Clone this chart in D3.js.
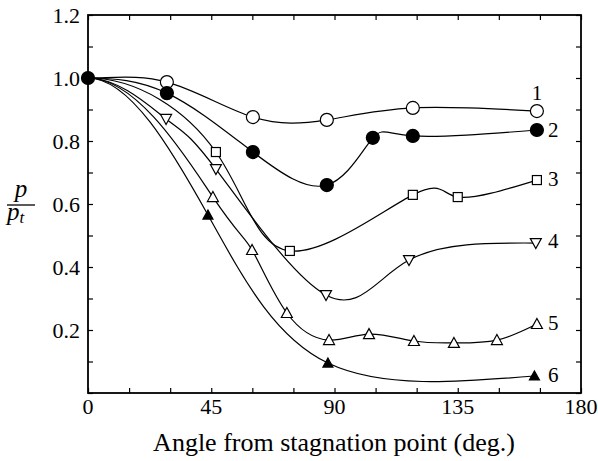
<!DOCTYPE html>
<html>
<head>
<meta charset="utf-8">
<script src="https://cdn.jsdelivr.net/npm/d3@7"></script>
<style>
  html, body { margin: 0; padding: 0; background: #fff; }
  svg { display: block; }
</style>
</head>
<body>
<svg id="chart" width="598" height="461"></svg>
<script>
// Shared stagnation point where every curve starts
const origin = [0, 1.0];

// Angles (deg) and pressure ratios for each curve
const angles1 = [28.8, 60.2, 87.2, 118.6, 163.9];
const values1 = [0.987, 0.876, 0.867, 0.905, 0.895];

const angles2 = [28.8, 60.2, 87.2, 104.0, 118.6, 163.9];
const values2 = [0.952, 0.765, 0.660, 0.810, 0.816, 0.835];

const angles3 = [46.7, 73.7, 118.6, 135.0, 163.9];
const values3 = [0.765, 0.451, 0.629, 0.622, 0.676];

const angles4 = [28.5, 46.7, 86.9, 117.2, 163.5];
const values4 = [0.870, 0.711, 0.311, 0.422, 0.476];

const angles5 = [45.6, 59.9, 72.6, 88.0, 102.6, 119.0, 133.6, 149.3, 163.9];
const values5 = [0.622, 0.454, 0.254, 0.168, 0.187, 0.165, 0.159, 0.168, 0.219];

const angles6 = [43.8, 87.6, 163.0];
const values6 = [0.565, 0.095, 0.054];

const curveLabels = ["1", "2", "3", "4", "5", "6"];
const markerKinds = ["circleOpen", "circleFilled", "square", "triDown", "triUp", "triUpFilled"];

const xTicks = [0, 45, 90, 135, 180];
const yTicks = [0.2, 0.4, 0.6, 0.8, 1.0, 1.2];

const xTitle = "Angle from stagnation point (deg.)";

const series = [
  [angles1, values1], [angles2, values2], [angles3, values3],
  [angles4, values4], [angles5, values5], [angles6, values6]
].map(([a, v], i) => ({
  label: curveLabels[i],
  kind: markerKinds[i],
  points: a.map((d, j) => [d, v[j]])
}));

const FONT = "'Liberation Serif', 'Times New Roman', Times, 'DejaVu Serif', serif";

const svg = d3.select("#chart").attr("font-family", FONT);
const L = 88, R = 581, T = 15, B = 393;

const x = d3.scaleLinear().domain([0, 180]).range([L, R]);
const y = d3.scaleLinear().domain([0, 1.2]).range([B, T]);

svg.append("clipPath").attr("id", "plotArea")
  .append("rect").attr("x", L).attr("y", T).attr("width", R - L).attr("height", B - T);

// Frame with inward ticks on all four sides
const tickLen = 5;
const xMinor = d3.range(0, 181, 15);
const yMinor = d3.range(0, 12.01, 1).map(d => d / 10);

const axB = d3.axisBottom(x).tickValues(xMinor).tickSizeInner(-tickLen).tickSizeOuter(0).tickFormat("");
const axT = d3.axisTop(x).tickValues(xMinor).tickSizeInner(-tickLen).tickSizeOuter(0).tickFormat("");
const axL = d3.axisLeft(y).tickValues(yMinor).tickSizeInner(-tickLen).tickSizeOuter(0).tickFormat("");
const axR = d3.axisRight(y).tickValues(yMinor).tickSizeInner(-tickLen).tickSizeOuter(0).tickFormat("");

const frame = svg.append("g");
frame.append("g").attr("transform", `translate(0,${B})`).call(axB);
frame.append("g").attr("transform", `translate(0,${T})`).call(axT);
frame.append("g").attr("transform", `translate(${L},0)`).call(axL);
frame.append("g").attr("transform", `translate(${R},0)`).call(axR);
frame.selectAll(".domain").remove();
frame.selectAll(".tick line").attr("stroke", "#000").attr("stroke-width", 1.2);
frame.append("rect")
  .attr("x", L).attr("y", T).attr("width", R - L).attr("height", B - T)
  .attr("fill", "none").attr("stroke", "#000").attr("stroke-width", 1.8);

// Tick labels
svg.append("g").selectAll("text").data(xTicks).join("text")
  .attr("x", d => x(d)).attr("y", 414)
  .attr("text-anchor", "middle").attr("font-size", 22)
  .text(d => d);
svg.append("g").selectAll("text").data(yTicks).join("text")
  .attr("x", 80).attr("y", d => y(d) + 7.5)
  .attr("text-anchor", "end").attr("font-size", 22)
  .text(d => d.toFixed(1));

// Axis titles
svg.append("text").attr("x", 334).attr("y", 451)
  .attr("text-anchor", "middle").attr("font-size", 26).text(xTitle);

const yl = svg.append("g").attr("font-style", "italic");
yl.append("text").attr("x", 21).attr("y", 197).attr("text-anchor", "middle").attr("font-size", 25).text("p");
yl.append("line").attr("x1", 7).attr("x2", 35).attr("y1", 205).attr("y2", 205)
  .attr("stroke", "#000").attr("stroke-width", 1.3);
const pt = yl.append("text").attr("x", 7).attr("y", 220).attr("font-size", 25);
pt.append("tspan").text("p");
pt.append("tspan").attr("font-size", 17).attr("dy", 3).text("t");

// Curves: the distribution is symmetric about the stagnation point, so the
// spline runs through the mirrored points too, giving a level start at 0 deg.
const line = d3.line()
  .x(d => x(d[0])).y(d => y(d[1]))
  .curve(d3.curveNatural);

function symmetric(points) {
  const mirrored = points.map(p => [-p[0], p[1]]).reverse();
  return [...mirrored, origin, ...points];
}

const plot = svg.append("g");
plot.append("g").attr("clip-path", "url(#plotArea)")
  .selectAll("path.curve").data(series).join("path")
  .attr("class", "curve")
  .attr("d", s => line(symmetric(s.points)))
  .attr("fill", "none").attr("stroke", "#000").attr("stroke-width", 1.2);

// Markers
function drawMarker(g, kind) {
  const sw = 1.2;
  if (kind === "circleOpen" || kind === "circleFilled") {
    g.append("circle").attr("r", 6.5)
      .attr("fill", kind === "circleFilled" ? "#000" : "#fff")
      .attr("stroke", "#000").attr("stroke-width", sw);
  } else if (kind === "square") {
    g.append("rect").attr("x", -4.5).attr("y", -4.5).attr("width", 9).attr("height", 9)
      .attr("fill", "#fff").attr("stroke", "#000").attr("stroke-width", sw);
  } else if (kind === "triDown") {
    g.append("path").attr("d", "M-5.5,-4.5L5.5,-4.5L0,5.5Z")
      .attr("fill", "#fff").attr("stroke", "#000").attr("stroke-width", sw);
  } else if (kind === "triUp") {
    g.append("path").attr("d", "M-5.5,4.5L5.5,4.5L0,-5.5Z")
      .attr("fill", "#fff").attr("stroke", "#000").attr("stroke-width", sw);
  } else if (kind === "triUpFilled") {
    g.append("path").attr("d", "M-5,4L5,4L0,-5Z")
      .attr("fill", "#000").attr("stroke", "#000").attr("stroke-width", sw);
  }
}

series.forEach(s => {
  s.points.forEach(p => {
    const g = plot.append("g").attr("transform", `translate(${x(p[0])},${y(p[1])})`);
    drawMarker(g, s.kind);
  });
});
// Common starting point
drawMarker(plot.append("g").attr("transform", `translate(${x(origin[0])},${y(origin[1])})`), "circleFilled");

// Curve numbers beside the last marker of each curve
const labelPos = [[537, 100, "middle"], [548, 137, "start"], [548, 186, "start"],
                  [548, 248, "start"], [548, 330, "start"], [548, 382, "start"]];
svg.append("g").selectAll("text").data(series).join("text")
  .attr("x", (s, i) => labelPos[i][0]).attr("y", (s, i) => labelPos[i][1])
  .attr("text-anchor", (s, i) => labelPos[i][2])
  .attr("font-size", 21)
  .text(s => s.label);
</script>
</body>
</html>
